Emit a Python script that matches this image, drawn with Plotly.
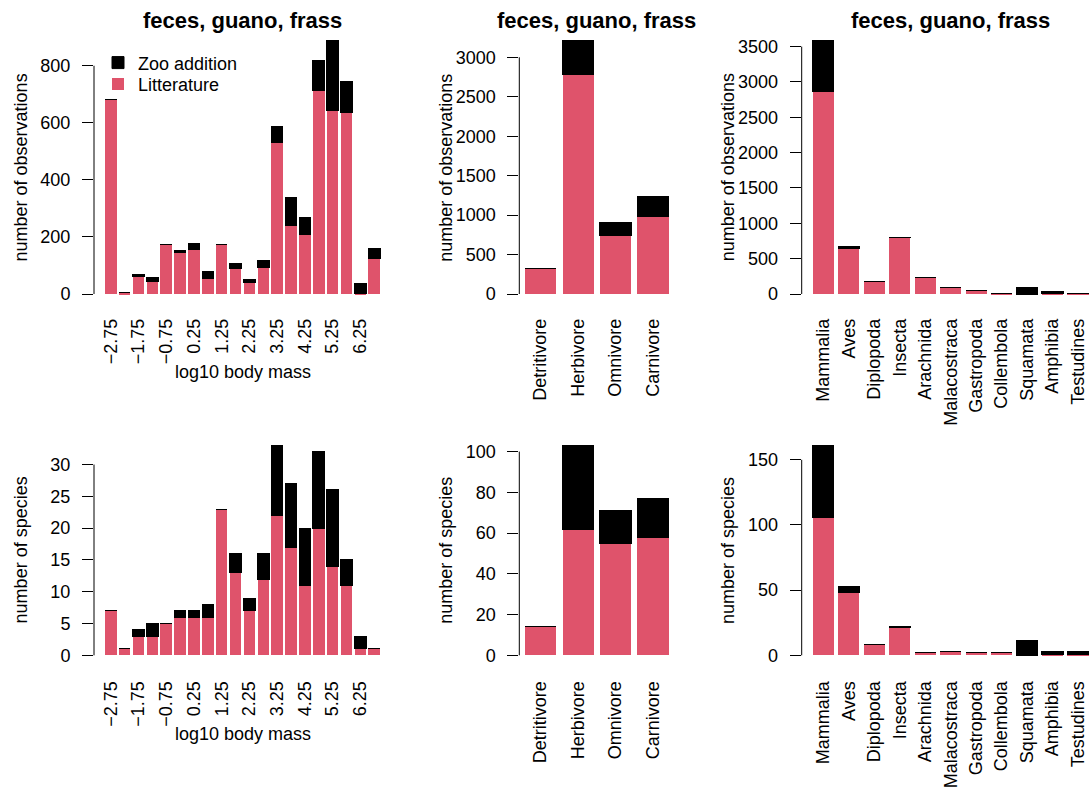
import plotly.graph_objects as go

W, H = 1091, 789
PINK = "#DF536B"
FONT = "Liberation Sans, Arial, Helvetica, sans-serif"
FS = 18

# ---------------- data ----------------
mass_bins = ["\u22122.75", "\u22122.25", "\u22121.75", "\u22121.25", "\u22120.75", "\u22120.25",
             "0.25", "0.75", "1.25", "1.75", "2.25", "2.75", "3.25", "3.75", "4.25",
             "4.75", "5.25", "5.75", "6.25", "6.75"]
mass_tick_labels = mass_bins[::2]

mass_obs_lit = [683, 4, 62, 44, 174, 147, 156, 55, 174, 90, 41, 93, 531, 240, 209, 714, 643, 636, 3, 125]
mass_obs_zoo = [0, 0, 6, 14, 0, 6, 21, 24, 0, 17, 10, 25, 56, 98, 59, 103, 244, 108, 34, 35]

mass_sp_lit = [7, 1, 3, 3, 5, 6, 6, 6, 23, 13, 7, 12, 22, 17, 11, 20, 14, 11, 1, 1]
mass_sp_zoo = [0, 0, 1, 2, 0, 1, 1, 2, 0, 3, 2, 4, 11, 10, 9, 12, 12, 4, 2, 0]

diet = ["Detritivore", "Herbivore", "Omnivore", "Carnivore"]
diet_obs_lit = [324, 2777, 742, 982]
diet_obs_zoo = [0, 430, 164, 253]
diet_sp_lit = [14, 62, 55, 58]
diet_sp_zoo = [0, 41, 16, 19]

taxa = ["Mammalia", "Aves", "Diplopoda", "Insecta", "Arachnida", "Malacostraca",
        "Gastropoda", "Collembola", "Squamata", "Amphibia", "Testudines"]
taxa_obs_lit = [2860, 644, 177, 796, 233, 92, 54, 3, 0, 3, 2]
taxa_obs_zoo = [720, 24, 0, 4, 0, 0, 0, 0, 85, 28, 12]
taxa_sp_lit = [106, 48, 8, 21, 2, 3, 2, 2, 0, 1, 1]
taxa_sp_zoo = [55, 5, 0, 1, 0, 0, 0, 0, 11, 2, 2]

title_text = "feces, guano, frass"
obs_label = "number of observations"
sp_label = "number of species"
mass_label = "log10 body mass"

# ---------------- layout geometry (pixels) ----------------
col_px = [(94.0, 391.0), (519.3, 674.4), (801.7, 1099.7)]
row_px = [(30.9, 304.9), (438.2, 665.4)]
row_label_pad = [10, 13]
row_xtitle_off = [68, 70]
BARGAP = 1 / 6.0

panels = [
    # (row, col, cats, lit, zoo, tickcats, dtick, ylabel, xlabel, title)
    (0, 0, mass_bins, mass_obs_lit, mass_obs_zoo, mass_tick_labels, 200, obs_label, mass_label, True),
    (0, 1, diet, diet_obs_lit, diet_obs_zoo, diet, 500, obs_label, None, True),
    (0, 2, taxa, taxa_obs_lit, taxa_obs_zoo, taxa, 500, obs_label, None, True),
    (1, 0, mass_bins, mass_sp_lit, mass_sp_zoo, mass_tick_labels, 5, sp_label, mass_label, False),
    (1, 1, diet, diet_sp_lit, diet_sp_zoo, diet, 20, sp_label, None, False),
    (1, 2, taxa, taxa_sp_lit, taxa_sp_zoo, taxa, 50, sp_label, None, False),
]

def px_x(px):
    return px / W

def px_y(py):
    return 1 - py / H

fig = go.Figure()
legend_common = dict(
    xanchor="left", yanchor="top", bgcolor="rgba(0,0,0,0)",
    font=dict(family=FONT, size=FS, color="black"), itemwidth=30,
)
layout = dict(
    width=W, height=H,
    margin=dict(l=0, r=0, t=0, b=0),
    paper_bgcolor="white", plot_bgcolor="white",
    barmode="stack", bargap=BARGAP,
    font=dict(family=FONT, size=FS, color="black"),
    showlegend=True,
    legend=dict(x=px_x(98), y=px_y(44.5), **legend_common),
    legend2=dict(x=px_x(98), y=px_y(66), **legend_common),
)
annotations = []
shapes = []

for i, (r, c, cats, lit, zoo, tickcats, dtick, ylab, xlab, has_title) in enumerate(panels):
    idx = i + 1
    xa = "x" if idx == 1 else f"x{idx}"
    ya = "y" if idx == 1 else f"y{idx}"
    xkey = "xaxis" if idx == 1 else f"xaxis{idx}"
    ykey = "yaxis" if idx == 1 else f"yaxis{idx}"

    n = len(cats)
    w = 1 - BARGAP
    span = (n - 1) + w
    ext = 0.04 * span
    lo, hi = -w / 2 - ext, (n - 1) + w / 2 + ext
    left, right = col_px[c]
    if right > W:
        hi = lo + (W - left) / (right - left) * (hi - lo)
        right = W
    top, bottom = row_px[r]

    totals = [a + b for a, b in zip(lit, zoo)]
    ymax = max(totals)
    yr = [-0.04 * ymax, 1.04 * ymax]
    tickvals = list(range(0, int(yr[1]) + 1, dtick))

    fig.add_trace(go.Bar(
        x=cats, y=lit, name="Litterature", marker=dict(color=PINK, line=dict(width=0)),
        xaxis=xa, yaxis=ya, showlegend=(idx == 1), legend="legend2", hoverinfo="skip",
    ))
    fig.add_trace(go.Bar(
        x=cats, y=zoo, name="Zoo addition",
        marker=dict(color="black", line=dict(width=1, color="black")),
        xaxis=xa, yaxis=ya, showlegend=(idx == 1), legend="legend", hoverinfo="skip",
    ))

    layout[xkey] = dict(
        domain=[px_x(left), px_x(right)], anchor=ya, type="category",
        categoryorder="array", categoryarray=cats,
        range=[lo, hi], showgrid=False, zeroline=False, showline=False,
        ticks="", tickmode="array", tickvals=tickcats, ticktext=tickcats,
        tickangle=-90, ticklabelstandoff=row_label_pad[r],
        tickfont=dict(family=FONT, size=FS, color="black"), fixedrange=True,
    )
    layout[ykey] = dict(
        domain=[px_y(bottom), px_y(top)], anchor=xa, range=yr,
        showgrid=False, zeroline=False, showline=False,
        ticks="outside", ticklen=11, tickwidth=1, tickcolor="black",
        tickmode="array", tickvals=tickvals, ticktext=[str(t) for t in tickvals],
        ticklabelstandoff=8,
        tickfont=dict(family=FONT, size=FS, color="black"), fixedrange=True,
    )
    # R-style axis line spanning the ticks only
    shapes.append(dict(
        type="line", xref=f"{xa} domain", yref=ya, x0=0, x1=0,
        y0=tickvals[0], y1=tickvals[-1], line=dict(color="black", width=1),
    ))
    # y label
    annotations.append(dict(
        text=ylab, xref="paper", yref="paper",
        x=px_x(left - 73), y=px_y((top + bottom) / 2),
        textangle=-90, showarrow=False, xanchor="center", yanchor="middle",
        font=dict(family=FONT, size=FS, color="black"),
    ))
    if xlab:
        annotations.append(dict(
            text=xlab, xref="paper", yref="paper",
            x=px_x((col_px[c][0] + col_px[c][1]) / 2), y=px_y(bottom + row_xtitle_off[r]),
            showarrow=False, xanchor="center", yanchor="middle",
            font=dict(family=FONT, size=FS, color="black"),
        ))
    if has_title:
        annotations.append(dict(
            text="<b>" + title_text + "</b>", xref="paper", yref="paper",
            x=px_x((col_px[c][0] + col_px[c][1]) / 2), y=px_y(21),
            showarrow=False, xanchor="center", yanchor="middle",
            font=dict(family=FONT, size=22, color="black"),
        ))

layout["annotations"] = annotations
layout["shapes"] = shapes
fig.update_layout(**layout)

fig.write_html("out.html", config={"displayModeBar": False},
               post_script="document.body.style.margin='0px';")
